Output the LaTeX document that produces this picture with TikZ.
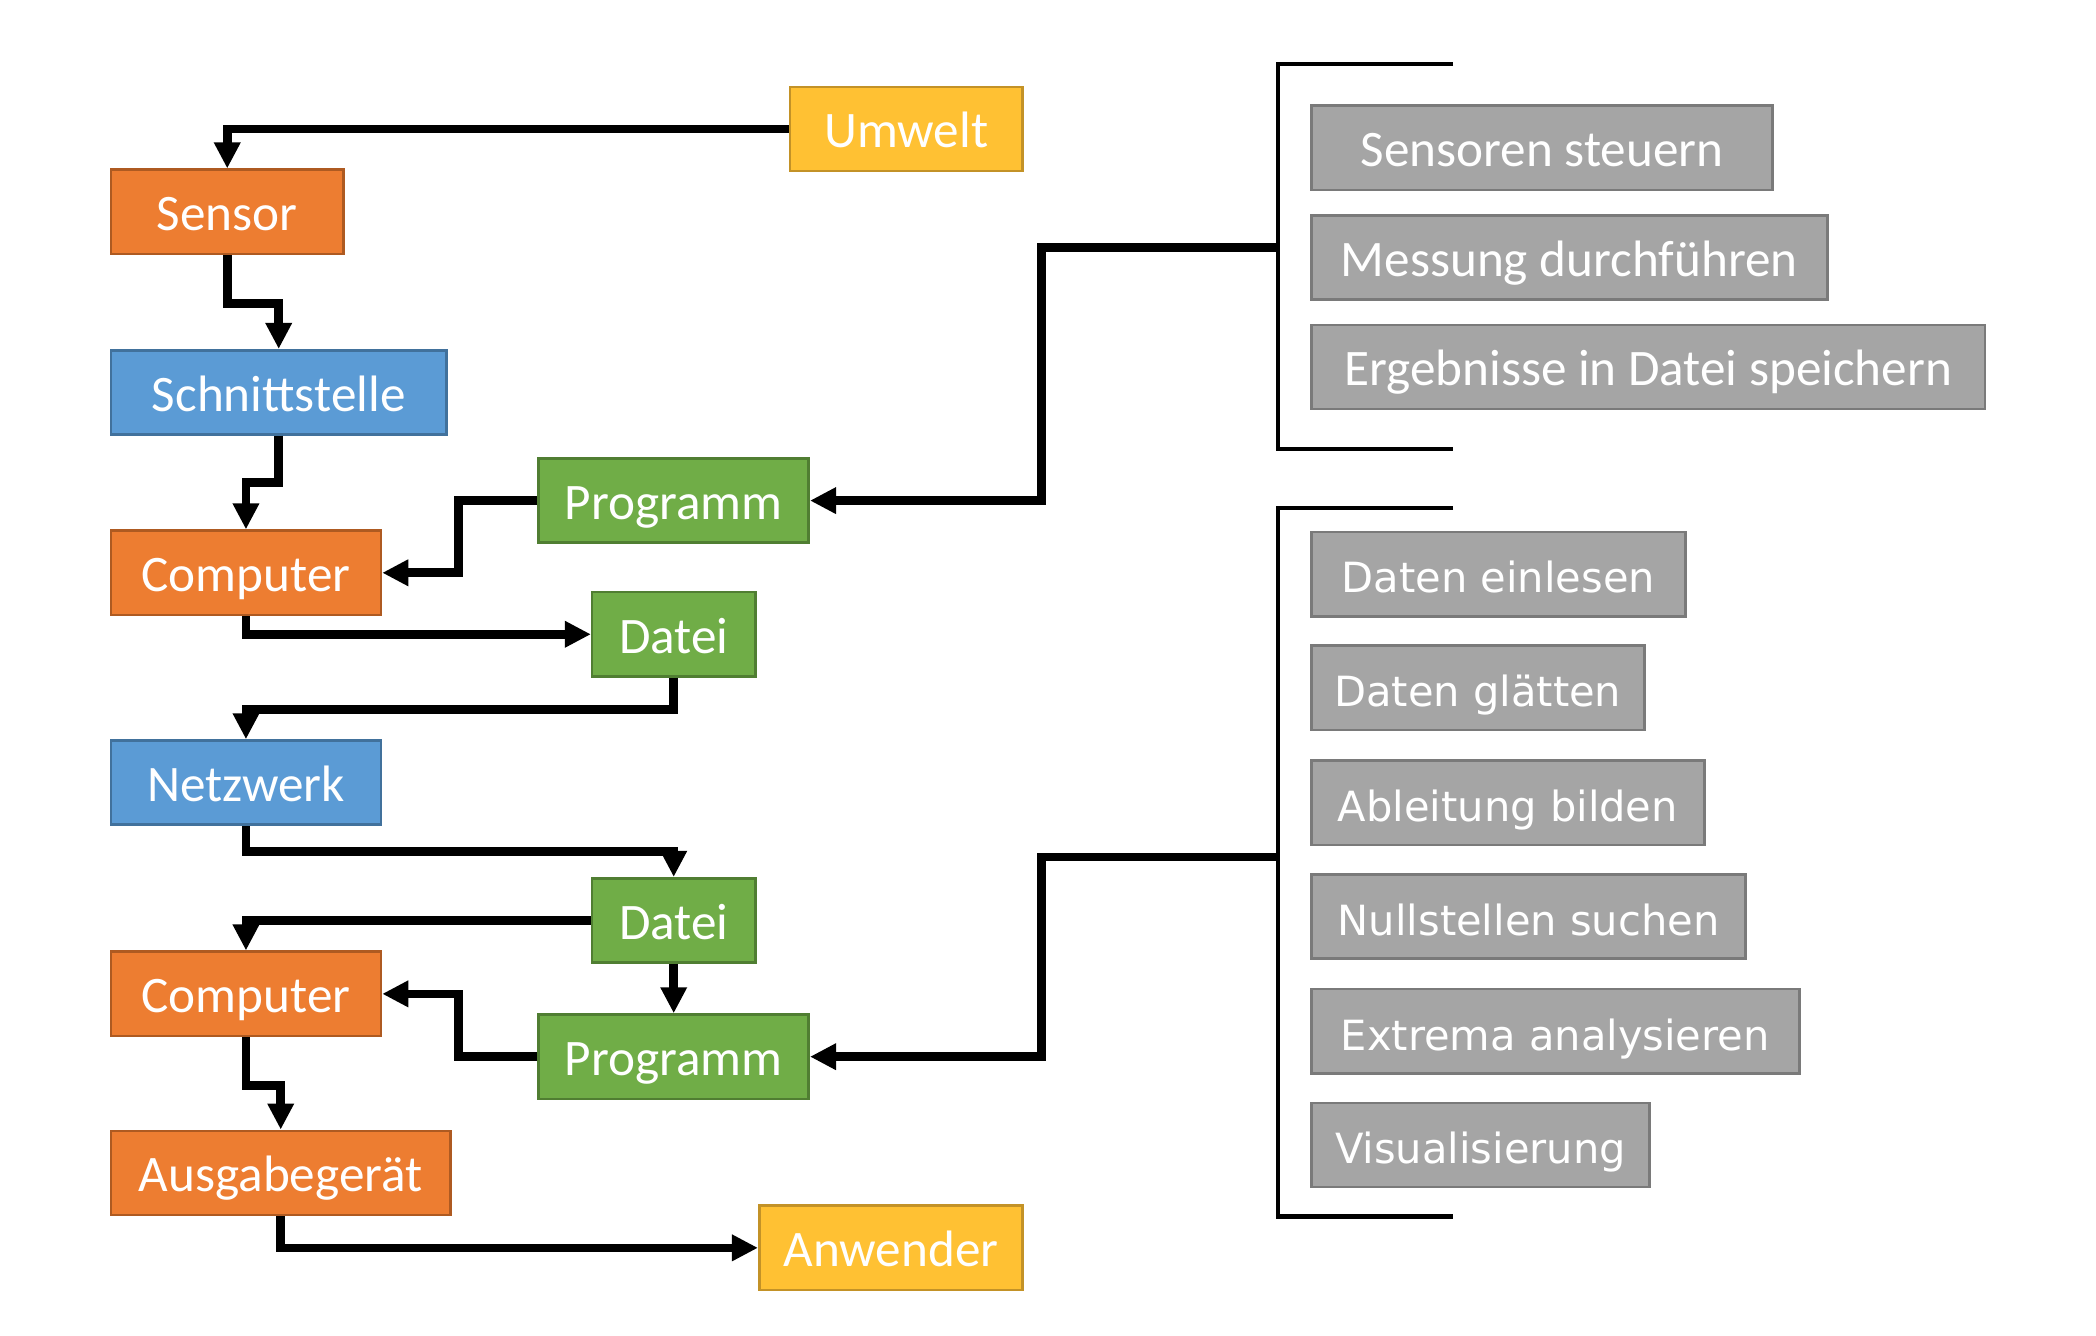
\documentclass[tikz,border=0pt]{standalone}
\usepackage{fontspec}
\setmainfont{Carlito}
\newfontfamily\vfont{DejaVu Sans}
\usetikzlibrary{arrows.meta}
\newlength\unitpx
\setlength\unitpx{0.6684pt}
\definecolor{orfill}{HTML}{ED7D31}\definecolor{ordraw}{HTML}{AE5A21}
\definecolor{blfill}{HTML}{5B9BD5}\definecolor{bldraw}{HTML}{41719C}
\definecolor{grfill}{HTML}{70AD47}\definecolor{grdraw}{HTML}{507E32}
\definecolor{yefill}{HTML}{FFC133}\definecolor{yedraw}{HTML}{C39227}
\definecolor{gyfill}{HTML}{A5A5A5}\definecolor{gydraw}{HTML}{7A7A7A}
\begin{document}
\begin{tikzpicture}[x=\unitpx,y=-\unitpx,
  box/.style={draw, line width=1.3pt, inner sep=0pt, minimum height=63*\unitpx,
    text height=20pt, text depth=1.2pt, text=white, font=\fontsize{25.6}{30}\selectfont},
  orbox/.style={box, fill=orfill, draw=ordraw},
  blbox/.style={box, fill=blfill, draw=bldraw},
  grbox/.style={box, fill=grfill, draw=grdraw},
  yebox/.style={box, fill=yefill, draw=yedraw},
  gybox/.style={box, fill=gyfill, draw=gydraw},
  vbox/.style={gybox, font=\vfont\fontsize{20.8}{25}\selectfont},
  arr/.style={line width=4.3pt, -{Triangle[length=13pt,width=12.5pt]}},
  brk/.style={line width=2.3pt}]
\useasboundingbox (0,0) rectangle (1568,999);
% left chain
\node[yebox, minimum width=174*\unitpx] (um) at (678,96.5) {Umwelt};
\node[orbox, minimum width=174*\unitpx] (se) at (170,158.5) {Sensor};
\node[blbox, minimum width=251*\unitpx] (sch) at (208.5,293.5) {Schnittstelle};
\node[grbox, minimum width=202*\unitpx] (pr1) at (504,374.5) {Programm};
\node[orbox, minimum width=202*\unitpx] (co1) at (184,428.5) {Computer};
\node[grbox, minimum width=122*\unitpx] (da1) at (504,474.5) {Datei};
\node[blbox, minimum width=202*\unitpx] (ne) at (184,585.5) {Netzwerk};
\node[grbox, minimum width=122*\unitpx] (da2) at (504,688.5) {Datei};
\node[orbox, minimum width=202*\unitpx] (co2) at (184,743.5) {Computer};
\node[grbox, minimum width=202*\unitpx] (pr2) at (504,790.5) {Programm};
\node[orbox, minimum width=254*\unitpx] (au) at (210,877.5) {Ausgabegerät};
\node[yebox, minimum width=197*\unitpx] (an) at (666.5,933.5) {Anwender};
% right upper group
\node[gybox, minimum width=345*\unitpx] (g1) at (1153.5,110.5) {Sensoren steuern};
\node[gybox, minimum width=386*\unitpx] (g2) at (1174,192.5) {Messung durchführen};
\node[gybox, minimum width=504*\unitpx] (g3) at (1233,274.5) {Ergebnisse in Datei speichern};
% right lower group
\node[vbox, minimum width=280*\unitpx] (h1) at (1121,429.5) {Daten einlesen};
\node[vbox, minimum width=249*\unitpx] (h2) at (1105.5,514.5) {Daten glätten};
\node[vbox, minimum width=294*\unitpx] (h3) at (1128,600.5) {Ableitung bilden};
\node[vbox, minimum width=325*\unitpx] (h4) at (1143.5,685.5) {Nullstellen suchen};
\node[vbox, minimum width=365*\unitpx] (h5) at (1163.5,771.5) {Extrema analysieren};
\node[vbox, minimum width=253*\unitpx] (h6) at (1107.5,856.5) {Visualisierung};
% brackets
\draw[brk] (1087,48) -- (956,48) -- (956,336) -- (1087,336);
\draw[brk] (1087,380) -- (956,380) -- (956,910) -- (1087,910);
\coordinate (b1) at (956,185);
\coordinate (b2) at (956,641);
% connectors
\draw[arr] (um.west) -| (se.north);
\draw[arr] (se.south) -- ++(0,36) -| (sch.north);
\draw[arr] (sch.south) -- ++(0,35) -| (co1.north);
\draw[arr] (pr1.west) -- ++(-59,0) |- (co1.east);
\draw[arr] (co1.south) |- (da1.west);
\draw[arr] (da1.south) -- ++(0,24) -| (ne.north);
\draw[arr] (ne.south) -- ++(0,19) -| (da2.north);
\draw[arr] (da2.west) -| (co2.north);
\draw[arr] (da2.south) -- (pr2.north);
\draw[arr] (pr2.west) -- ++(-59,0) |- (co2.east);
\draw[arr] (co2.south) -- ++(0,36) -| (au.north);
\draw[arr] (au.south) |- (an.west);
\draw[arr] (b1) -- ++(-177,0) |- (pr1.east);
\draw[arr] (b2) -- ++(-177,0) |- (pr2.east);
\end{tikzpicture}
\end{document}
